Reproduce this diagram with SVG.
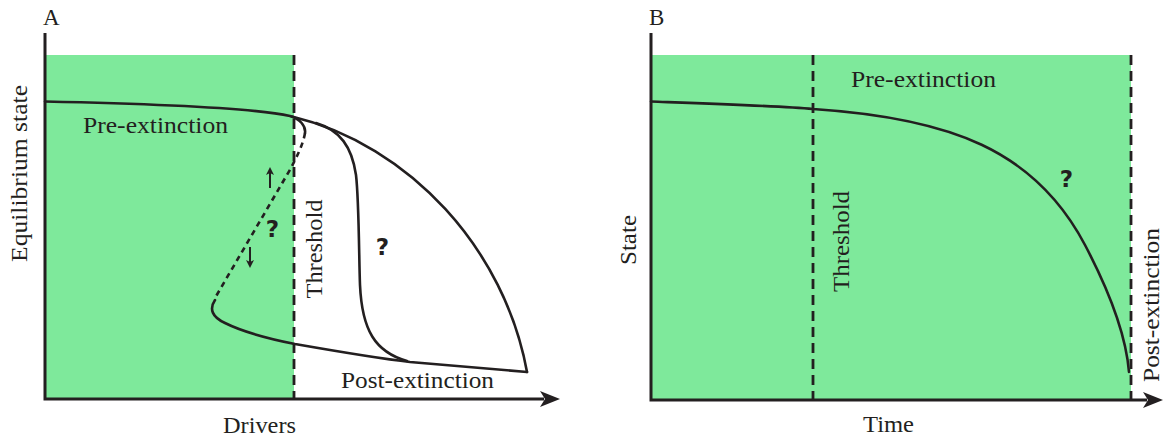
<svg xmlns="http://www.w3.org/2000/svg" width="1164" height="437" viewBox="0 0 1164 437">
<style>
.zone{fill:#7ee99b;stroke:none}
.axis{fill:none;stroke:#231f20;stroke-width:3}
.curve{fill:none;stroke:#231f20;stroke-width:2.6;stroke-linecap:round}
.unstable{fill:none;stroke:#231f20;stroke-width:2.6;stroke-dasharray:5.5 4.5}
.thr{fill:none;stroke:#231f20;stroke-width:2.8;stroke-dasharray:10 6}
.small{fill:none;stroke:#231f20;stroke-width:2}
.lbl{font-family:"Liberation Serif","Times New Roman",serif;font-size:23px;fill:#231f20}
.q{font-family:"DejaVu Sans","Open Sans",sans-serif;font-size:23px;font-weight:bold;fill:#231f20;text-anchor:middle}
</style>
<defs>
<marker id="bigArrow" viewBox="0 0 20 16" refX="4" refY="8" markerWidth="20" markerHeight="16" markerUnits="userSpaceOnUse" orient="auto"><path d="M0,0 L20,8 L0,16 L5,8 Z" fill="#231f20"/></marker>
<marker id="smallArrow" viewBox="0 0 8 8" refX="2" refY="4" markerWidth="8" markerHeight="8" markerUnits="userSpaceOnUse" orient="auto"><path d="M0,0 L8,4 L0,8 L2,4 Z" fill="#231f20"/></marker>
</defs>

<g id="panelA">
<rect class="zone" x="45" y="55" width="249" height="344"/>
<text class="lbl" x="43" y="25">A</text>
<g id="A-pre-extinction"><text class="lbl" x="83" y="133" textLength="145" lengthAdjust="spacingAndGlyphs">Pre-extinction</text></g>
<g id="A-post-extinction"><text class="lbl" x="341" y="388" textLength="153" lengthAdjust="spacingAndGlyphs">Post-extinction</text></g>
<g id="A-threshold"><text class="lbl" transform="translate(322,249) rotate(-90)" text-anchor="middle" textLength="99" lengthAdjust="spacingAndGlyphs">Threshold</text></g>
<text class="lbl" x="223" y="433" textLength="73" lengthAdjust="spacingAndGlyphs">Drivers</text>
<text class="lbl" transform="translate(27,173.5) rotate(-90)" text-anchor="middle" textLength="177" lengthAdjust="spacingAndGlyphs">Equilibrium state</text>
<text class="q" x="272.5" y="237">?</text>
<text class="q" x="382.5" y="255">?</text>
</g>

<g id="panelB">
<rect class="zone" x="651" y="55" width="480" height="344"/>
<text class="lbl" x="649" y="25">B</text>
<g id="B-pre-extinction"><text class="lbl" x="851" y="87" textLength="145" lengthAdjust="spacingAndGlyphs">Pre-extinction</text></g>
<g id="B-threshold"><text class="lbl" transform="translate(849,241.5) rotate(-90)" text-anchor="middle" textLength="101" lengthAdjust="spacingAndGlyphs">Threshold</text></g>
<g id="B-post-extinction"><text class="lbl" transform="translate(1159,305) rotate(-90)" text-anchor="middle" textLength="154" lengthAdjust="spacingAndGlyphs">Post-extinction</text></g>
<text class="lbl" x="863" y="432" textLength="51" lengthAdjust="spacingAndGlyphs">Time</text>
<text class="lbl" transform="translate(636,240) rotate(-90)" text-anchor="middle" textLength="50" lengthAdjust="spacingAndGlyphs">State</text>
<text class="q" x="1066.5" y="187">?</text>
</g>

<g id="connectors">
<line class="thr" x1="294" y1="55" x2="294" y2="399"/>
<line class="thr" x1="813" y1="55" x2="813" y2="399"/>
<line class="thr" x1="1131" y1="55" x2="1131" y2="399"/>
<path class="curve" d="M45,101.5 C160,104 255,108 290,116 C300,119 306,126 305,133"/>
<path class="unstable" d="M305,133 C303,145 297,156 291,168 L215,298"/>
<path class="curve" d="M215,300 C209,309 212,317 225,323 C245,333 270,339 295,344 C335,351 375,358 410,362 L527,372"/>
<path class="curve" d="M292,116.5 C410,145 505,250 527,372"/>
<path class="curve" d="M316,123 C340,130 352,147 356,175 C359,200 359,260 360,285 C362,330 375,352 407,361"/>
<line class="small" x1="270" y1="188" x2="270" y2="173" marker-end="url(#smallArrow)"/>
<line class="small" x1="250" y1="247" x2="250" y2="262" marker-end="url(#smallArrow)"/>
<path class="curve" d="M651,101.5 C720,104 780,106 813,109 C950,118 1035,150 1085,245 C1110,292.5 1126,335 1129,372"/>
<path class="axis" d="M45,33 V399 H544" marker-end="url(#bigArrow)"/>
<path class="axis" d="M651,33 V400 H1147" marker-end="url(#bigArrow)"/>
</g>
</svg>
